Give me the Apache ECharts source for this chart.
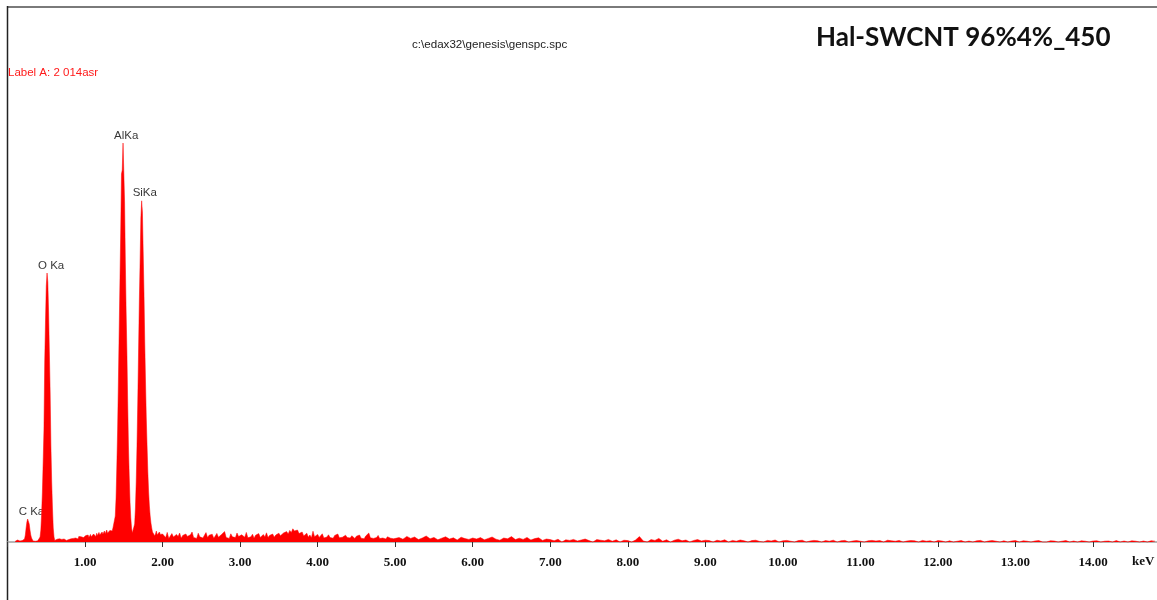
<!DOCTYPE html>
<html>
<head>
<meta charset="utf-8">
<title>EDS spectrum</title>
<script src="https://cdn.jsdelivr.net/npm/echarts@6/dist/echarts.min.js"></script>
<style>
html, body { margin: 0; padding: 0; background: #fff; }
#spectrum { width: 1157px; height: 600px; }
</style>
</head>
<body>
<div id="spectrum"></div>
<script>
// counts per channel (roughly 5 counts per pixel)
// 0.10 .. 2.00 keV, 0.01 keV channels (C, O, Al, Si peaks)
var lowStart = 0.10, lowStep = 0.01;
var lowCounts = [
  4, 8, 3, 10, 6, 12, 5, 9, 14, 7,
  10, 6, 15, 35, 70, 100, 115, 110, 90, 60,
  35, 20, 10, 5, 3, 6, 4, 8, 12, 6,
  14, 10, 25, 60, 140, 250, 400, 560, 900, 1100,
  1280, 1345, 1300, 1150, 950, 750, 480, 300, 170, 70,
  25, 8, 12, 5, 14, 9, 6, 16, 10, 7,
  13, 18, 9, 15, 11, 20, 8, 14, 17, 12,
  19, 10, 16, 22, 13, 18, 25, 14, 20, 17,
  23, 15, 28, 19, 21, 26, 17, 30, 22, 25,
  20, 32, 24, 27, 35, 22, 30, 38, 26, 33,
  29, 40, 31, 36, 27, 44, 33, 38, 48, 35,
  42, 37, 50, 39, 45, 55, 41, 48, 60, 44,
  52, 47, 58, 50, 62, 55, 70, 65, 70, 130,
  220, 380, 560, 800, 1050, 1300, 1550, 1840, 1860, 1995,
  1850, 1700, 1400, 1150, 950, 700, 480, 330, 200, 120,
  70, 45, 35, 50, 90, 170, 300, 480, 700, 950,
  1200, 1400, 1620, 1706, 1650, 1450, 1250, 1000, 800, 620,
  480, 350, 250, 180, 130, 95, 70, 50, 40, 48,
  30, 42, 55, 36, 44, 28, 50, 38, 46, 33, 40
];
// 2.02 .. 5.00 keV, 0.02 keV steps
var midStart = 2.02, midStep = 0.02;
var midCounts = [
  35, 22, 48, 18, 30, 42, 25, 20, 38, 27, 45, 19, 33, 24, 40,
  28, 21, 36, 50, 23, 31, 18, 44, 26, 35, 20, 29, 47, 22, 34,
  25, 39, 19, 30, 43, 24, 21, 37, 28, 52, 23, 32, 18, 41, 26,
  33, 22, 45, 27, 20, 36, 29, 24, 48, 21, 31, 26, 39, 19, 34,
  28, 42, 23, 30, 37, 25, 46, 22, 33, 27, 40, 24, 35, 29, 44,
  31, 38, 45, 36, 52, 40, 58, 47, 66, 55, 48, 60, 42, 37, 50,
  30, 27, 44, 24, 35, 21, 54, 26, 32, 38, 23, 29, 41, 20, 30,
  25, 36, 22, 28, 19, 33, 26, 40, 21, 30, 24, 17, 34, 23, 27,
  20, 31, 25, 18, 29, 22, 35, 19, 26, 16, 30, 23, 45, 21, 25,
  18, 28, 22, 33, 17, 24, 20, 30, 15, 26, 21, 19, 27, 16, 23
];
// 5.05 .. 14.80 keV, 0.05 keV steps
var highStart = 5.05, highStep = 0.05;
var highCounts = [
  22, 14, 28, 18, 25, 12, 20, 30, 16, 23, 11, 19, 26, 15, 21, 10, 24, 17, 13, 20,
  15, 22, 11, 18, 25, 14, 9, 20, 16, 27, 12, 19, 13, 23, 10, 17, 21, 8, 15, 12,
  6, 14, 0, 11, 8, 13, 5, 10, 15, 7, 0, 12, 9, 6, 13, 4, 11, 0, 9, 7,
  0, 10, 27, 5, 0, 12, 8, 18, 4, 11, 0, 9, 14, 6, 10, 0, 8, 12, 5, 9,
  7, 0, 9, 5, 11, 0, 8, 4, 10, 6, 0, 7, 9, 3, 0, 8, 5, 10, 0, 6,
  8, 4, 0, 7, 9, 0, 5, 8, 6, 0, 7, 4, 9, 0, 6, 8, 0, 5, 7, 4,
  0, 6, 8, 5, 7, 0, 9, 6, 4, 8, 0, 5, 7, 6, 0, 8, 4, 6, 0, 7,
  5, 0, 6, 0, 4, 7, 0, 5, 0, 6, 8, 0, 5, 7, 4, 0, 6, 0, 5, 7,
  0, 6, 4, 0, 5, 7, 0, 0, 6, 5, 0, 4, 7, 0, 5, 0, 6, 4, 0, 5,
  6, 0, 4, 5, 0, 7, 0, 5, 0, 6, 4, 0, 5, 0, 6, 4
];

var peakNames = ['C Ka', 'O Ka', 'AlKa', 'SiKa'];
var peakKeV = [0.26, 0.51, 1.49, 1.73];
var peakTops = [115, 1345, 1995, 1706];

var keVMin = 0, keVMax = 14.825, keVStep = 1;

function channels(start, step, counts) {
  return counts.map(function (c, i) {
    return [+(start + i * step).toFixed(3), c];
  });
}
var spectrum = channels(lowStart, lowStep, lowCounts)
  .concat(channels(midStart, midStep, midCounts))
  .concat(channels(highStart, highStep, highCounts));

var myChart = echarts.init(document.getElementById('spectrum'));

var option = {
  animation: false,
  backgroundColor: '#fff',
  grid: { left: 7.5, right: 0, top: 8, bottom: 51, outerBoundsMode: 'none' },
  xAxis: {
    type: 'value',
    min: keVMin,
    max: keVMax,
    interval: keVStep,
    splitLine: { show: false },
    axisLine: { lineStyle: { color: '#a0a0a0', width: 1.5 } },
    axisTick: { length: 5, lineStyle: { color: '#333' } },
    axisLabel: {
      margin: 7,
      color: '#111',
      fontFamily: 'Liberation Serif',
      fontWeight: 'bold',
      fontSize: 13,
      formatter: function (v) {
        return (v > 0 && Math.abs(v - Math.round(v)) < 1e-6) ? v.toFixed(2) : '';
      }
    }
  },
  yAxis: { type: 'value', min: -35, max: 2670, show: false },
  series: [
    {
      type: 'line',
      data: spectrum,
      symbol: 'none',
      silent: true,
      lineStyle: { color: '#ff0000', width: 0.5 },
      areaStyle: { color: '#ff0000', opacity: 1 }
    },
    {
      type: 'scatter',
      silent: true,
      symbolSize: 1,
      itemStyle: { color: 'transparent' },
      data: peakKeV.map(function (k, i) {
        return { name: peakNames[i], value: [k, peakTops[i]] };
      }),
      label: {
        show: true,
        formatter: '{b}',
        position: 'top',
        align: 'left',
        distance: 1,
        offset: [-9, 0],
        color: '#000',
        fontFamily: 'Liberation Sans',
        fontSize: 11.5
      }
    }
  ],
  graphic: [
    { type: 'line', shape: { x1: 8, y1: 7, x2: 1157, y2: 7 }, style: { stroke: '#7a7a7a', lineWidth: 2 } },
    { type: 'line', shape: { x1: 7.5, y1: 6, x2: 7.5, y2: 600 }, style: { stroke: '#222', lineWidth: 1.5 } },
    { type: 'text', left: 412, top: 39, style: { text: 'c:\\edax32\\genesis\\genspc.spc', font: '11.6px "Liberation Sans"', fill: '#222' } },
    { type: 'text', left: 8, top: 67, style: { text: 'Label A: 2 014asr', font: '11.5px "Liberation Sans"', fill: '#ff1a1a' } },
    { type: 'text', left: 816, top: 25, style: { text: 'Hal-SWCNT 96%4%_450', font: 'bold 26px Lato', fill: '#111' } },
    { type: 'text', left: 1132, top: 555, style: { text: 'keV', font: 'bold 13px "Liberation Serif"', fill: '#111' } }
  ]
};

myChart.setOption(option);
window.onresize = function () {
  myChart.resize();
};
</script>
</body>
</html>
